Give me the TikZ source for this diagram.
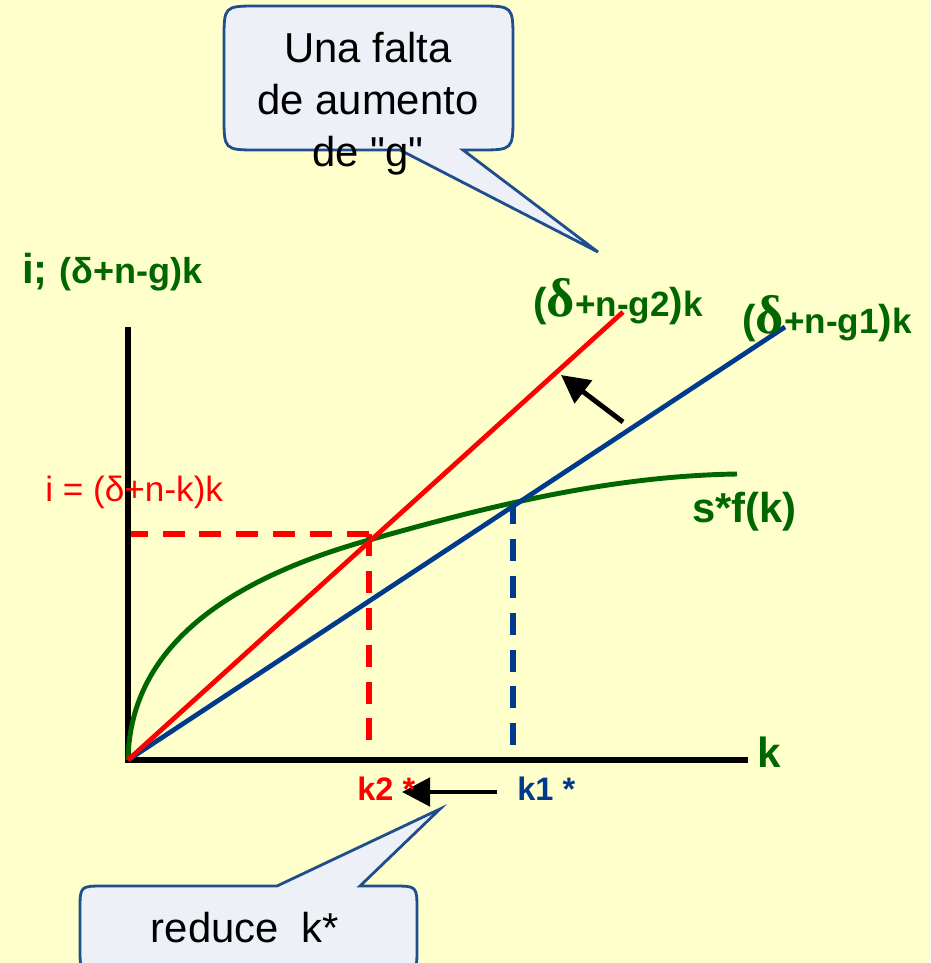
\documentclass[tikz,border=0pt]{standalone}
\usepackage{fontspec}
\setmainfont{Liberation Sans}[Ligatures=TeXOff]
\newfontfamily\serifa{Liberation Serif}
\usetikzlibrary{arrows.meta}
\definecolor{fondo}{HTML}{FFFFCC}
\definecolor{verde}{HTML}{006600}
\definecolor{rojo}{HTML}{FF0000}
\definecolor{azul}{HTML}{003A8C}
\definecolor{bordeglobo}{HTML}{1F4E8C}
\definecolor{rellenoglobo}{HTML}{EEF0F8}
\newcommand{\deltota}{{\serifa\bfseries\fontsize{31}{31}\selectfont δ}}
\newcommand{\paren}[1]{{\fontsize{23}{23}\selectfont #1}}

\begin{document}
\begin{tikzpicture}[x=0.02cm, y=-0.02cm,
			eje/.style={line width=2.9pt},
			recta/.style={line width=2.7pt},
			guia/.style={line width=3.2pt, dash pattern=on 12.5pt off 8.5pt},
			flecha/.style={line width=2.8pt, -{Triangle[length=16pt, width=16pt]}},
			globo/.style={draw=bordeglobo, fill=rellenoglobo, line width=1.6pt},
			texto/.style={font=\fontsize{23.8}{29.5}\selectfont, inner sep=0pt},
			rotulo/.style={font=\bfseries, inner sep=0pt, anchor=base west}]
			\useasboundingbox (0,0) rectangle (930,963);
			\fill[fondo] (0,0) rectangle (930,963);
			% puntos del grafico
			\coordinate (O) at (128,760);
			\coordinate (ytope) at (128,327);
			\coordinate (xfin) at (748,760);
			\coordinate (fin2) at (623,312);
			\coordinate (fin1) at (785,327);
			\coordinate (h2) at (369,534);
			\coordinate (h1) at (513,502);
			% globos
			\coordinate (punta1) at (598,252);
			\coordinate (punta2) at (440,809);
			\draw[globo] (400,150) -- (258,150) .. controls (224,150) .. (224,116) -- (224,40)
				.. controls (224,6) .. (258,6) -- (479,6) .. controls (513,6) .. (513,40) -- (513,116)
				.. controls (513,150) .. (479,150) -- (463,150) -- (punta1) -- cycle;
			\draw[globo] (277,886) -- (104,886) .. controls (80,886) .. (80,910) -- (80,948)
				.. controls (80,972) .. (104,972) -- (393,972) .. controls (417,972) .. (417,948) -- (417,910)
				.. controls (417,886) .. (393,886) -- (360,886) -- (punta2) -- cycle;
			\node[texto, align=center] (falta) at (368,104) {Una falta\\de aumento\\de "g"};
			\node[texto, anchor=base] (reduce) at (245,942) {reduce\ \ k*};
			% lineas de guia
			\draw[guia, rojo] (h2) -- (125,534);
			\draw[guia, rojo] (h2) -- (369,745);
			\draw[guia, azul] (h1) -- (513,745);
			% ejes
			\draw[eje] (ytope) -- (O) -- (xfin);
			% curvas
			\draw[recta, verde, line width=2.8pt] (O) .. controls (130,640) and (240,576) .. (369,540)
				.. controls (469,512) and (600,476) .. (737,474);
			\draw[recta, azul] (O) -- (fin1);
			\draw[recta, rojo] (O) -- (fin2);
			% flechas
			\coordinate (desde) at (623,422);
			\coordinate (hacia) at (561,375);
			\draw[flecha] (desde) -- (hacia);
			\coordinate (ak1) at (497,792);
			\coordinate (ak2) at (402,792);
			\draw[flecha] (ak1) -- (ak2);
			% rotulos
			\node[rotulo, text=verde] (ejei) at (22,283)
				{{\fontsize{23.8}{24}\selectfont i; }{\fontsize{20.5}{20}\selectfont (δ+n-g)k}};
			\node[rotulo, text=rojo, font=\mdseries\fontsize{20}{20}\selectfont] (inv) at (45,501) {i = (δ+n-k)k};
			\node[rotulo, text=verde, font=\bfseries\fontsize{20}{20}\selectfont] (rg2) at (533,316)
				{\paren{(}\deltota+n-g2\paren{)}k};
			\node[rotulo, text=verde, font=\bfseries\fontsize{20}{20}\selectfont] (rg1) at (742,333)
				{\paren{(}\deltota+n-g1\paren{)}k};
			\node[rotulo, text=verde, font=\bfseries\fontsize{23.8}{24}\selectfont] (sfk) at (692,522) {s*f(k)};
			\node[rotulo, text=verde, font=\bfseries\fontsize{24}{24}\selectfont] (ejek) at (757,767) {k};
			\node[rotulo, text=rojo, font=\bfseries\fontsize{18.5}{18}\selectfont] (k2) at (357,800) {k2 *};
			\node[rotulo, text=azul, font=\bfseries\fontsize{18.5}{18}\selectfont] (k1) at (517,800) {k1 *};
		\end{tikzpicture}
\end{document}
